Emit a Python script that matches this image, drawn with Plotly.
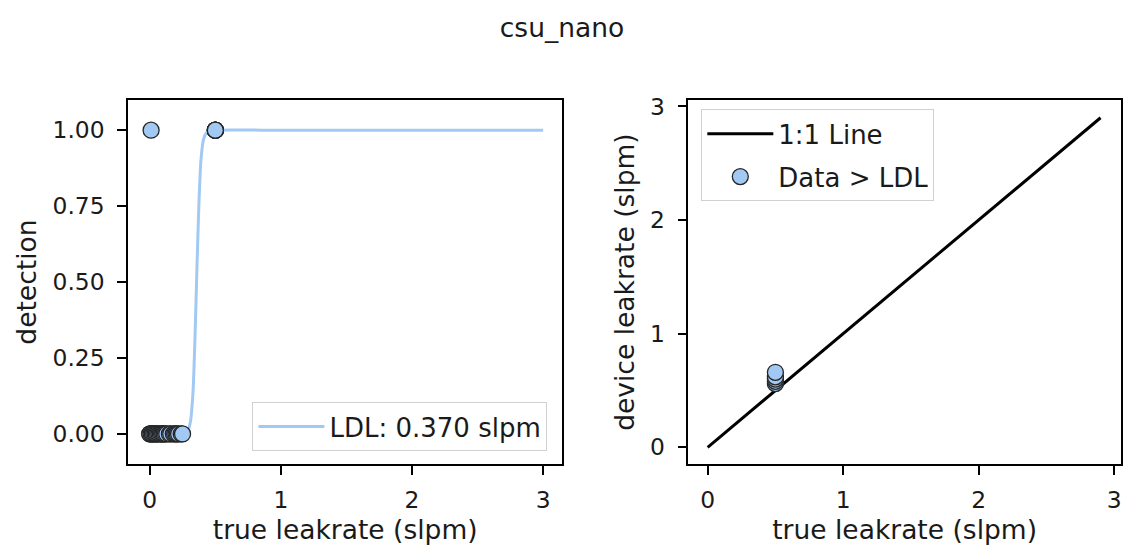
import plotly.graph_objects as go

# ---- data ----
title = "csu_nano"
det_x = [0.0, 0.0, 0.01, 0.02, 0.02, 0.03, 0.04, 0.05, 0.05, 0.06, 0.07, 0.08, 0.09, 0.10, 0.10,
         0.11, 0.12, 0.13, 0.15, 0.16, 0.18, 0.19, 0.20, 0.21, 0.22, 0.24, 0.25,
         0.01, 0.5, 0.5, 0.5, 0.5, 0.5]
det_y = [0, 0, 0, 0, 0, 0, 0, 0, 0, 0, 0, 0, 0, 0, 0,
         0, 0, 0, 0, 0, 0, 0, 0, 0, 0, 0, 0,
         1, 1, 1, 1, 1, 1]
curve_x = [0.0, 0.20, 0.26, 0.29, 0.31, 0.33, 0.345, 0.36, 0.375, 0.39, 0.41, 0.43, 0.46, 0.50, 1.0, 2.0, 3.0]
curve_y = [0.0, 0.0, 0.002, 0.01, 0.04, 0.14, 0.32, 0.55, 0.76, 0.90, 0.97, 0.99, 0.998, 1.0, 1.0, 1.0, 1.0]
ldl_label = "LDL: 0.370 slpm"
one_x = [0.0, 2.9]
one_y = [0.0, 2.9]
quant_x = [0.5, 0.5, 0.5, 0.5, 0.5]
quant_y = [0.56, 0.58, 0.60, 0.62, 0.66]

BLUE = "#a1c9f4"
EDGE = "#262626"
FONT = "DejaVu Sans"
TICK_FS = 23.4
LAB_FS = 26.5
LEG_FS = 26
TITLE_FS = 26.5
TXT = "#1a1a1a"

fig = go.Figure()
fig.add_trace(go.Scatter(x=curve_x, y=curve_y, mode="lines", line=dict(color=BLUE, width=3, shape="spline", smoothing=0.6),
                         name=ldl_label, xaxis="x", yaxis="y", legend="legend"))
fig.add_trace(go.Scatter(x=det_x, y=det_y, mode="markers",
                         marker=dict(color=BLUE, size=16, line=dict(color=EDGE, width=1.3)),
                         showlegend=False, xaxis="x", yaxis="y"))
fig.add_trace(go.Scatter(x=one_x, y=one_y, mode="lines", line=dict(color="black", width=3),
                         name="1:1 Line", legendgroup="a", xaxis="x2", yaxis="y2", legend="legend2"))
fig.add_trace(go.Scatter(x=quant_x, y=quant_y, mode="markers",
                         marker=dict(color=BLUE, size=16, line=dict(color=EDGE, width=1.3)),
                         name="Data > LDL", legendgroup="b", xaxis="x2", yaxis="y2", legend="legend2"))

ax = dict(showgrid=False, zeroline=False, showline=True, mirror=True, linecolor="black", linewidth=1.7,
          ticks="outside", ticklen=9, tickwidth=1.7, tickcolor="black",
          tickfont=dict(family=FONT, size=TICK_FS, color=TXT))
xax = dict(ax, ticklabelstandoff=5)
yax = dict(ax, ticklabelstandoff=8)
ydom = [0.1515, 0.8278]
lab = dict(family=FONT, size=LAB_FS, color=TXT)
fig.update_layout(
    width=1124, height=546, margin=dict(l=0, r=0, t=0, b=0),
    paper_bgcolor="white", plot_bgcolor="white",
    font=dict(family=FONT, size=LAB_FS, color=TXT),
    xaxis=dict(xax, domain=[0.1141, 0.5006], range=[-0.165, 3.145], tickvals=[0, 1, 2, 3],
               title=dict(text="true leakrate (slpm)", standoff=5, font=lab), anchor="y"),
    yaxis=dict(yax, domain=ydom, range=[-0.1, 1.1], tickvals=[0, 0.25, 0.5, 0.75, 1.0], tickformat=".2f",
               title=dict(text="detection", standoff=8, font=lab), anchor="x"),
    xaxis2=dict(xax, domain=[0.613, 0.998], range=[-0.142, 3.049], tickvals=[0, 1, 2, 3],
                title=dict(text="true leakrate (slpm)", standoff=5, font=lab), anchor="y2"),
    yaxis2=dict(yax, domain=ydom, range=[-0.15, 3.058], tickvals=[0, 1, 2, 3],
                title=dict(text="device leakrate (slpm)", standoff=8, font=lab), anchor="x2"),
    legend=dict(x=0.4875, y=0.176, xanchor="right", yanchor="bottom", bgcolor="rgba(255,255,255,0.8)",
                bordercolor="#d0d0d0", borderwidth=1, font=dict(family=FONT, size=LEG_FS, color=TXT), itemwidth=66),
    legend2=dict(x=0.6245, y=0.81, xanchor="left", yanchor="top", bgcolor="rgba(255,255,255,0.8)",
                 bordercolor="#d0d0d0", borderwidth=1, font=dict(family=FONT, size=LEG_FS, color=TXT), itemwidth=66,
                 tracegroupgap=6),
    title=dict(text=title, x=0.5, xanchor="center", y=0.95, yanchor="middle", font=dict(family=FONT, size=TITLE_FS, color=TXT)),
)
fig.write_html("out.html")
